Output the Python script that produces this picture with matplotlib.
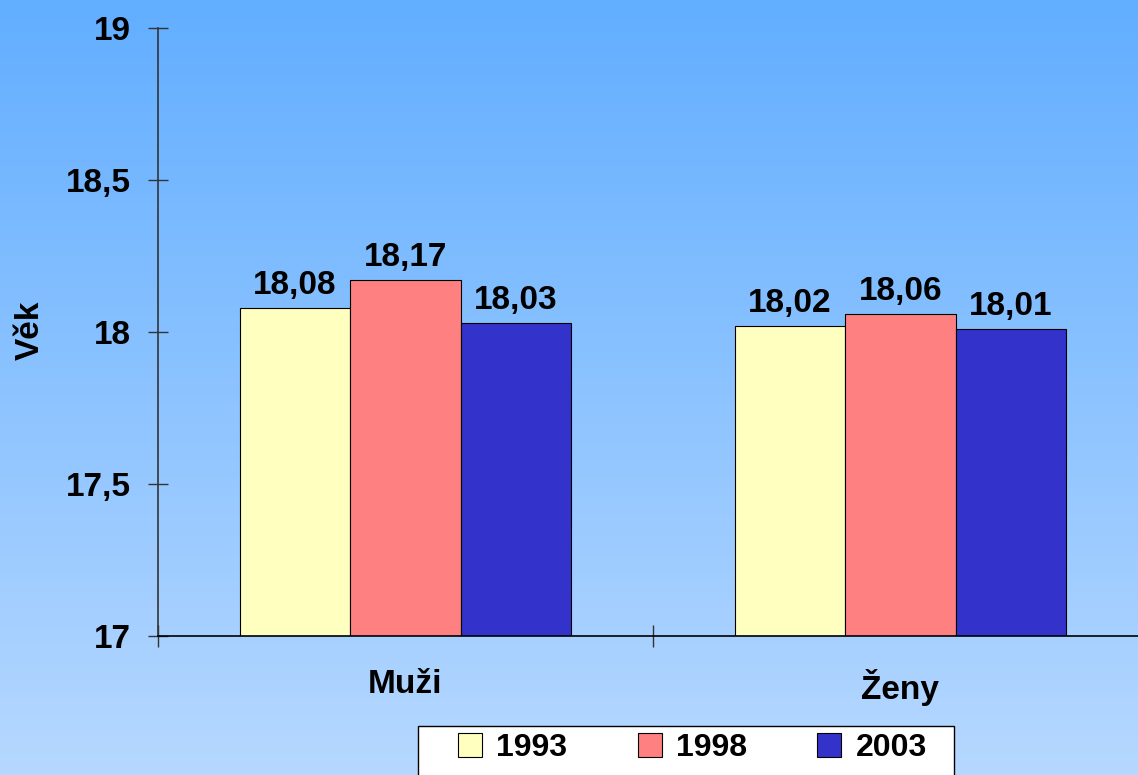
import numpy as np
import matplotlib
matplotlib.use("Agg")
import matplotlib.pyplot as plt
from matplotlib.ticker import FuncFormatter, FixedLocator
from matplotlib.patches import Rectangle

plt.rcParams['font.family'] = ['Liberation Sans', 'DejaVu Sans']
plt.rcParams['font.weight'] = 'bold'

categories = ['Muži', 'Ženy']
years = ['1993', '1998', '2003']
values = {
    '1993': [18.08, 18.02],
    '1998': [18.17, 18.06],
    '2003': [18.03, 18.01],
}
colors = ['#FFFFC0', '#FF8080', '#3333CC']

fig = plt.figure(figsize=(11.38, 7.75), dpi=100)

# background gradient
bg = fig.add_axes([0, 0, 1, 1], zorder=-10)
top = np.array([98, 174, 255]) / 255
bot = np.array([182, 216, 255]) / 255
t = np.linspace(0, 1, 256)[:, None, None]
grad = top * (1 - t) + bot * t
bg.imshow(grad, aspect='auto', extent=[0, 1, 0, 1])
bg.set_xlim(0, 1)
bg.set_ylim(0, 1)
bg.set_axis_off()

ax = fig.add_axes([158 / 1138, 1 - 636 / 775, 990 / 1138, 608 / 775])
ax.patch.set_alpha(0)

x = np.arange(len(categories))
w = 0.223
for i, yr in enumerate(years):
    pos = x + (i - 1) * w
    ax.bar(pos, np.array(values[yr]) - 17, bottom=17, width=w,
           color=colors[i], edgecolor='black', linewidth=0.8, label=yr)
    for p, v in zip(pos, values[yr]):
        ax.annotate(f'{v:.2f}'.replace('.', ','), (p, v), xytext=(0, 5),
                    textcoords='offset points', ha='center', va='bottom',
                    fontsize=24, fontweight='bold')

ax.set_xlim(-0.5, 1.5)
ax.set_ylim(17, 19)
ax.set_yticks([17, 17.5, 18, 18.5, 19])
ax.yaxis.set_major_formatter(FuncFormatter(lambda v, _: f'{v:g}'.replace('.', ',')))
ax.set_xticks(x)
ax.set_xticklabels(categories)
ax.xaxis.set_minor_locator(FixedLocator([-0.5, 0.5, 1.5]))
ax.tick_params(axis='x', which='major', length=0, pad=24, labelsize=24)
ax.tick_params(axis='x', which='minor', direction='inout', length=16, width=1, color='#333333')
ax.tick_params(axis='y', direction='inout', length=15, width=1, color='#333333',
               pad=12, labelsize=24)
for s in ['top', 'right']:
    ax.spines[s].set_visible(False)
ax.spines['left'].set_color('#333333')
ax.spines['bottom'].set_color('black')
ax.spines['left'].set_linewidth(1.2)
ax.spines['bottom'].set_linewidth(1.2)

fig.text(30 / 1138, 1 - 330 / 775, 'Věk', rotation=90, ha='center', va='center',
         fontsize=24, fontweight='bold')

# legend box (runs off the bottom edge)
fig.patches.append(Rectangle((418 / 1138, -0.02), (954 - 418) / 1138, 0.02 + 49 / 775,
                             transform=fig.transFigure, facecolor='white',
                             edgecolor='black', linewidth=1, zorder=5))
leg = fig.legend(loc='center left', bbox_to_anchor=(458 / 1138, 1 - 748 / 775), ncol=3,
                 fontsize=23, frameon=False, handlelength=0.75, handleheight=0.75,
                 columnspacing=2.2, handletextpad=0.45, borderpad=0, borderaxespad=0)
leg.set_zorder(6)
for txt in leg.get_texts():
    txt.set_fontweight('bold')

fig.savefig('out.png', dpi=100)
